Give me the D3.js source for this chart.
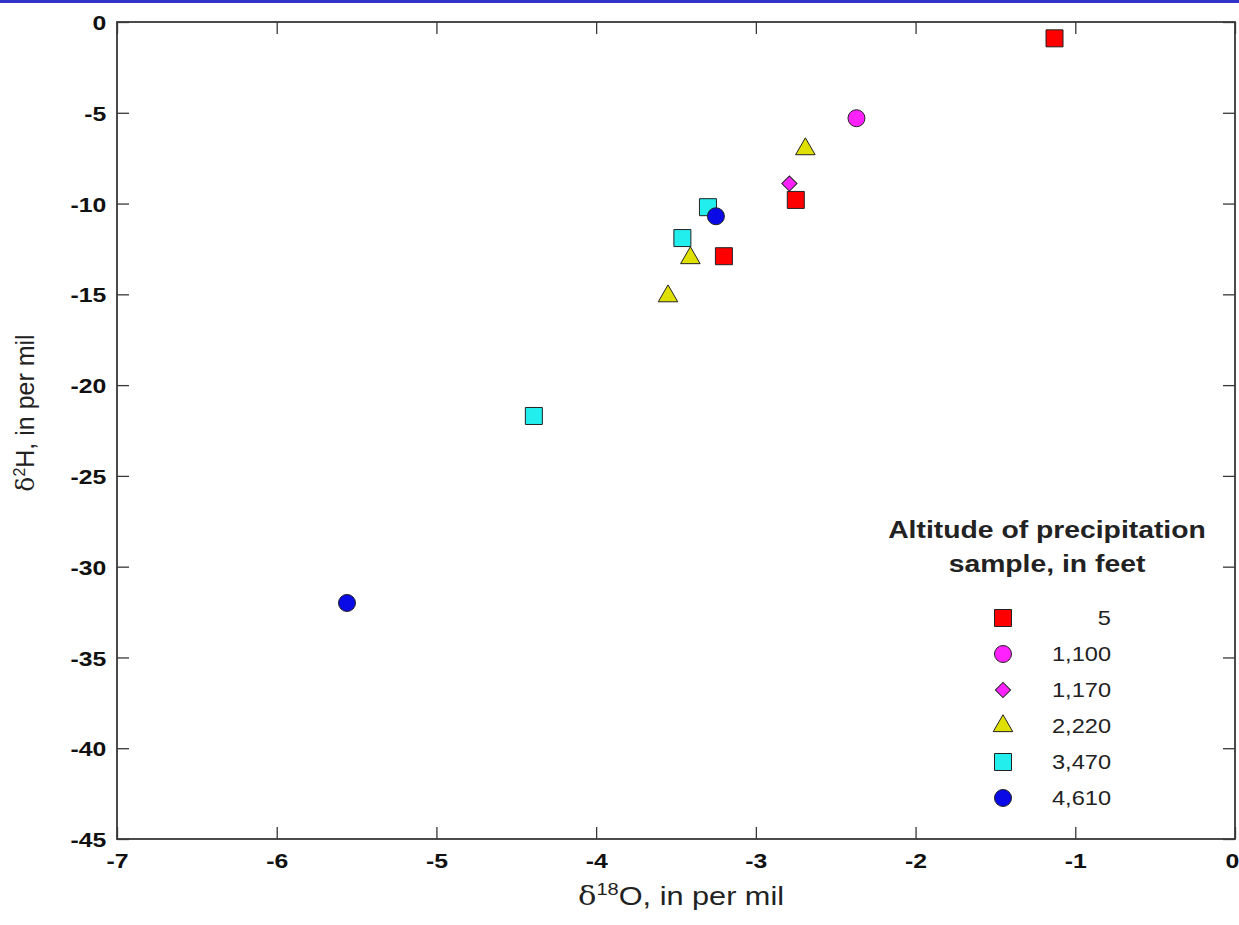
<!DOCTYPE html>
<html>
<head>
<meta charset="utf-8">
<script src="https://cdn.jsdelivr.net/npm/d3@7"></script>
<style>
  html, body { margin: 0; padding: 0; background: #fff; overflow: hidden; }
  svg { display: block; font-family: Arial, "Liberation Sans", sans-serif; }
</style>
</head>
<body>
<svg id="chart" width="1239" height="925"></svg>
<script>
// ---- Data ----
const altitudes = ["5", "1,100", "1,170", "2,220", "3,470", "4,610"];
const alt5_d18O    = [-1.13, -2.75, -3.20];
const alt5_d2H     = [-0.9, -9.8, -12.9];
const alt1100_d18O = [-2.37];
const alt1100_d2H  = [-5.3];
const alt1170_d18O = [-2.79];
const alt1170_d2H  = [-8.9];
const alt2220_d18O = [-2.69, -3.41, -3.55];
const alt2220_d2H  = [-7.0, -13.0, -15.1];
const alt3470_d18O = [-3.30, -3.46, -4.39];
const alt3470_d2H  = [-10.2, -11.9, -21.7];
const alt4610_d18O = [-3.25, -5.56];
const alt4610_d2H  = [-10.7, -32.0];
const xTicks = [-7, -6, -5, -4, -3, -2, -1, 0];
const yTicks = [0, -5, -10, -15, -20, -25, -30, -35, -40, -45];

// ---- Styles ----
const styles = [
  { shape: "square",   fill: "#ff0000" },
  { shape: "circle",   fill: "#ff22ff" },
  { shape: "diamond",  fill: "#ff22ff" },
  { shape: "triangle", fill: "#e0e000" },
  { shape: "square",   fill: "#22eeee" },
  { shape: "circle",   fill: "#0a0ae6" }
];
const series = [
  [alt5_d18O, alt5_d2H], [alt1100_d18O, alt1100_d2H], [alt1170_d18O, alt1170_d2H],
  [alt2220_d18O, alt2220_d2H], [alt3470_d18O, alt3470_d2H], [alt4610_d18O, alt4610_d2H]
];

const SX = 1.18; // horizontal text stretch in reference
const svg = d3.select("#chart");
const L = 117, R = 1235, T = 22, B = 839;
const fmt = d => String(d);

svg.append("rect").attr("x", 0).attr("y", 0).attr("width", 1239).attr("height", 3).attr("fill", "#3434c8");

const x = d3.scaleLinear().domain([-7, 0]).range([L, R]);
const y = d3.scaleLinear().domain([-45, 0]).range([B, T]);

const axisColor = "#383838";
function styleAxis(g) {
  g.select(".domain").remove();
  g.selectAll(".tick line").attr("stroke", axisColor).attr("stroke-width", 1.3);
}

// frame
svg.append("rect").attr("x", L).attr("y", T).attr("width", R - L).attr("height", B - T)
  .attr("fill", "none").attr("stroke", axisColor).attr("stroke-width", 1.8);

// bottom axis
const gx = svg.append("g").attr("transform", `translate(0,${B})`)
  .call(d3.axisBottom(x).tickValues(xTicks).tickSizeInner(-12).tickSizeOuter(0).tickFormat(fmt));
styleAxis(gx);
gx.selectAll(".tick text").attr("y", 0).attr("dy", "29.5px")
  .attr("fill", "#111").style("font-size", "21px").style("font-weight", "bold")
  .attr("transform", `scale(${SX},1)`)
  .filter(d => d === 0).attr("text-anchor", "end").attr("x", 3.3);
// top axis ticks
const gxt = svg.append("g").attr("transform", `translate(0,${T})`)
  .call(d3.axisTop(x).tickValues(xTicks).tickSizeInner(-12).tickSizeOuter(0).tickFormat(""));
styleAxis(gxt);
// left axis
const gy = svg.append("g").attr("transform", `translate(${L},0)`)
  .call(d3.axisLeft(y).tickValues(yTicks).tickSizeInner(-12).tickSizeOuter(0).tickFormat(fmt));
styleAxis(gy);
gy.selectAll(".tick text").attr("x", -9).attr("dy", "0.36em")
  .attr("fill", "#111").style("font-size", "21px").style("font-weight", "bold")
  .attr("transform", `scale(${SX},1)`);
// right axis ticks
const gyr = svg.append("g").attr("transform", `translate(${R},0)`)
  .call(d3.axisRight(y).tickValues(yTicks).tickSizeInner(-12).tickSizeOuter(0).tickFormat(""));
styleAxis(gyr);

// axis titles
const xt = svg.append("text").attr("text-anchor", "middle").attr("fill", "#222")
  .attr("transform", `translate(681,905) scale(${SX},1)`).style("font-size", "26px");
xt.append("tspan").style("font-family", "'DejaVu Serif', serif").text("δ");
xt.append("tspan").attr("dy", "-10").style("font-size", "17px").text("18");
xt.append("tspan").attr("dy", "10").text("O, in per mil");

const yt = svg.append("text").attr("text-anchor", "middle").attr("fill", "#222")
  .attr("transform", `translate(34,413) rotate(-90)`).style("font-size", "25px");
yt.append("tspan").style("font-family", "'DejaVu Serif', serif").text("δ");
yt.append("tspan").attr("dy", "-9").style("font-size", "16px").text("2");
yt.append("tspan").attr("dy", "9").text("H, in per mil");

// symbols
function symPath(shape) {
  if (shape === "square") return d3.symbol(d3.symbolSquare, 289)();
  if (shape === "circle") return d3.symbol(d3.symbolCircle, 227)();
  if (shape === "triangle") return d3.symbol(d3.symbolTriangle, 165)();
  if (shape === "diamond") return d3.symbol(d3.symbolSquare, 115)();
}
function symRot(shape) { return shape === "diamond" ? " rotate(45)" : ""; }

const pts = svg.append("g");
series.forEach((s, i) => {
  const st = styles[i];
  const data = s[0].map((v, j) => [v, s[1][j]]);
  pts.selectAll(null).data(data).enter().append("path")
    .attr("d", symPath(st.shape))
    .attr("transform", d => `translate(${x(d[0])},${y(d[1])})${symRot(st.shape)}`)
    .attr("fill", st.fill).attr("stroke", "#222").attr("stroke-width", 1);
});

// legend
const lg = svg.append("g");
lg.append("text").attr("text-anchor", "middle").attr("fill", "#222")
  .attr("transform", `translate(1047,538) scale(${SX},1)`)
  .style("font-size", "24px").style("font-weight", "bold").text("Altitude of precipitation");
lg.append("text").attr("text-anchor", "middle").attr("fill", "#222")
  .attr("transform", `translate(1047,572) scale(${SX},1)`)
  .style("font-size", "24px").style("font-weight", "bold").text("sample, in feet");
const legY = d3.scalePoint().domain(altitudes).range([618, 798]);
altitudes.forEach((a, i) => {
  const st = styles[i];
  lg.append("path").attr("d", symPath(st.shape))
    .attr("transform", `translate(1003,${legY(a)})${symRot(st.shape)}`)
    .attr("fill", st.fill).attr("stroke", "#222").attr("stroke-width", 1);
  lg.append("text").attr("text-anchor", "end").attr("fill", "#222")
    .attr("transform", `translate(1111,${legY(a) + 7}) scale(${SX},1)`)
    .style("font-size", "20px").text(a);
});
</script>
</body>
</html>
